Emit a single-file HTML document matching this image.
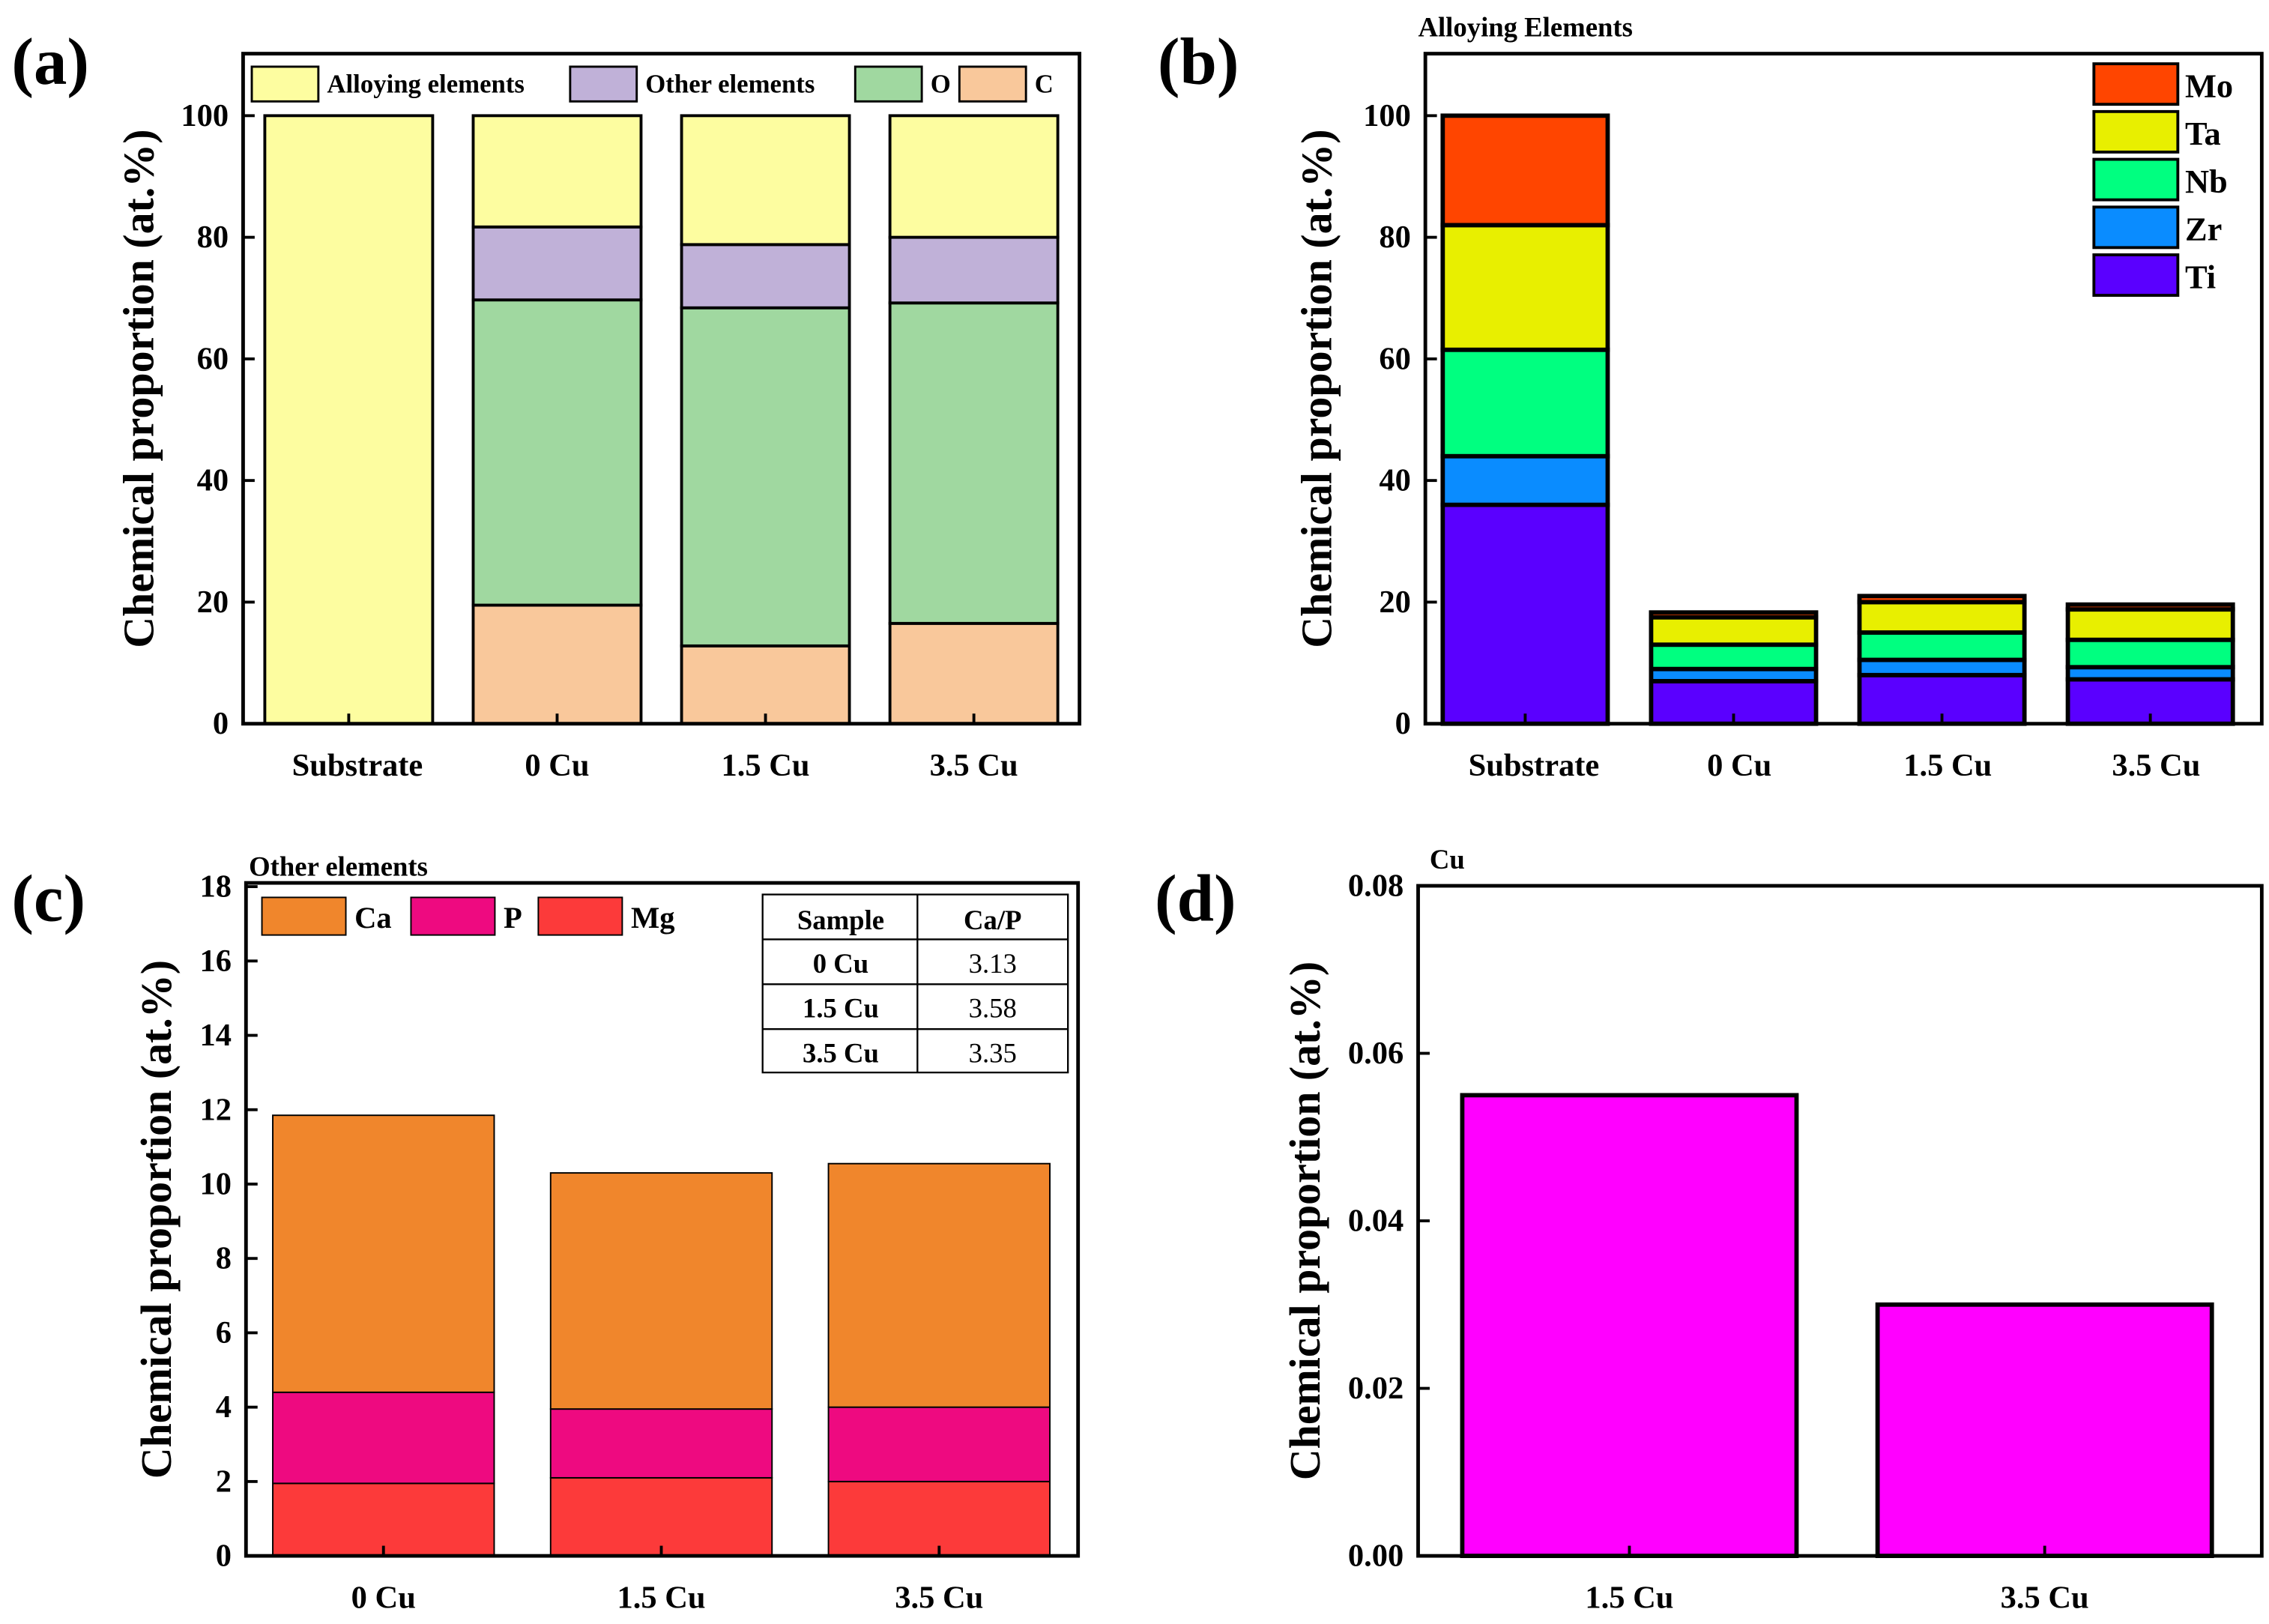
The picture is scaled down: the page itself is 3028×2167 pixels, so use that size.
<!DOCTYPE html>
<html><head><meta charset="utf-8"><style>
html,body{margin:0;padding:0;background:#fff}
svg{display:block}
text{font-family:"Liberation Serif",serif;font-weight:bold;fill:#000}
</style></head><body>
<svg id="fig" width="3028" height="2167" viewBox="0 0 1568 1122" xmlns="http://www.w3.org/2000/svg"></svg>
<script>
// Panel (a)
const catsA = ["Substrate","0 Cu","1.5 Cu","3.5 Cu"];
const seriesNamesA = ["C","O","Other elements","Alloying elements"];
const cA = [0,19.5,12.8,16.5];
const oA = [0,50.2,55.6,52.7];
const otherA = [0,12,10.4,10.8];
const alloyA = [100,18.3,21.2,20];
const ticksA = [0,20,40,60,80,100];
// Panel (b)
const catsB = ["Substrate","0 Cu","1.5 Cu","3.5 Cu"];
const tiB = [36,7,8,7.3];
const zrB = [8,2,2.5,2];
const nbB = [17.5,4,4.5,4.5];
const taB = [20.5,4.5,5,5];
const moB = [18,0.8,1,0.8];
const ticksB = [0,20,40,60,80,100];
// Panel (c)
const catsC = ["0 Cu","1.5 Cu","3.5 Cu"];
const mgC = [1.95,2.1,2.0];
const pC = [2.45,1.85,2.0];
const caC = [7.45,6.35,6.55];
const ticksC = [0,2,4,6,8,10,12,14,16,18];
const caPRatios = ["3.13","3.58","3.35"];
// Panel (d)
const catsD = ["1.5 Cu","3.5 Cu"];
const cuD = [0.055,0.030];
const ticksD = [0,0.02,0.04,0.06,0.08];

const svg=document.getElementById('fig');
const NS="http://www.w3.org/2000/svg";
function mk(tag,attrs,parent,txt){const e=document.createElementNS(NS,tag);for(const k in attrs)e.setAttribute(k,attrs[k]);if(txt!==undefined)e.textContent=txt;(parent||svg).appendChild(e);return e;}

function panel(cfg){
  const g=mk('g',{});
  
  
  const {x0,x1,y0,y1,ymin,ymax}=cfg;
  const ys=v=>y1-(v-ymin)/(ymax-ymin)*(y1-y0);
  const xs=i=>cfg.cx0+i*cfg.step;
  cfg.cats.forEach((c,i)=>{
    let base=0;
    cfg.series.forEach((s,si)=>{
      const v=s.vals[i]; if(v<=0){return;}
      const r=mk('rect',{x:xs(i)-cfg.bw/2,y:ys(base+v),width:cfg.bw,height:ys(base)-ys(base+v),fill:s.color,stroke:'#000','stroke-width':cfg.sw||2},g);
      
      
      base+=v;
    });
    const t=mk('text',{x:xs(i)+(cfg.lblDx?cfg.lblDx[i]:0),y:y1+36,'text-anchor':'middle','font-size':22},g,c);
    
    
    mk('line',{x1:xs(i),x2:xs(i),y1:y1,y2:y1-7,stroke:'#000','stroke-width':2},g);
  });
  const f=mk('rect',{x:x0,y:y0,width:x1-x0,height:y1-y0,fill:'none',stroke:'#000','stroke-width':2.5},g);
  
  
  cfg.ticks.forEach(v=>{
    const y=ys(v);
    mk('line',{x1:x0,x2:x0+8,y1:y,y2:y,stroke:'#000','stroke-width':2},g);
    const t=mk('text',{x:x0-10,y:y+7,'text-anchor':'end','font-size':22},g,cfg.fmt?cfg.fmt(v):String(v));
    
    
  });
  const yt=mk('text',{x:0,y:0,'text-anchor':'middle','font-size':30,transform:`translate(${cfg.ytx},${(y0+y1)/2}) rotate(-90)`},g,'Chemical proportion (at.%)');
  
  
  const pl=mk('text',{x:cfg.lx,y:cfg.ly,'font-size':46},g,cfg.label);
  
  
  if(cfg.title){const tt=mk('text',{x:cfg.tx,y:cfg.ty,'font-size':19},g,cfg.title);
    
    }
  return g;
}

const ga=panel({name:'panel-a',x0:168,x1:746,y0:37,y1:500,ymin:0,ymax:110.2,cats:catsA,cx0:241,step:144,bw:116,lblDx:[6,0,0,0],
  series:[{key:'c',vals:cA,color:'#f9c89b'},{key:'o',vals:oA,color:'#a0d8a0'},{key:'other',vals:otherA,color:'#c0b1d8'},{key:'alloy',vals:alloyA,color:'#fdfda0'}],
  ticks:ticksA,ytx:106,lx:8,ly:58,label:'(a)'});
[['Alloying elements','#fdfda0',174,46],['Other elements','#c0b1d8',394,46],['O','#a0d8a0',591,46],['C','#f9c89b',663,46]].forEach(l=>{
  const r=mk('rect',{x:l[2],y:l[3],width:46,height:24,fill:l[1],stroke:'#000','stroke-width':1.5},ga);
  
  
  const t=mk('text',{x:l[2]+52,y:l[3]+18,'font-size':18},ga,l[0]);
  
  
});

const gb=panel({name:'panel-b',x0:985,x1:1563,y0:37,y1:500,ymin:0,ymax:110.2,cats:catsB,cx0:1054,step:144,bw:114,sw:3,lblDx:[6,4,4,4],
  series:[{key:'ti',vals:tiB,color:'#5a00ff'},{key:'zr',vals:zrB,color:'#0a8cff'},{key:'nb',vals:nbB,color:'#00ff80'},{key:'ta',vals:taB,color:'#e8ef00'},{key:'mo',vals:moB,color:'#ff4500'}],
  ticks:ticksB,ytx:920,lx:800,ly:58,label:'(b)',title:'Alloying Elements',tx:980,ty:25});
[['Mo','#ff4500'],['Ta','#e8ef00'],['Nb','#00ff80'],['Zr','#0a8cff'],['Ti','#5a00ff']].forEach((l,i)=>{
  const y=44+i*33;
  const r=mk('rect',{x:1447,y:y,width:58,height:28,fill:l[1],stroke:'#000','stroke-width':2},gb);
  
  
  const t=mk('text',{x:1510,y:y+23,'font-size':23},gb,l[0]);
  
  
});

const gc=panel({name:'panel-c',x0:170,x1:745,y0:610,y1:1075,ymin:0,ymax:18.1,cats:catsC,cx0:265,step:192,bw:153,sw:1,
  series:[{key:'mg',vals:mgC,color:'#fc3a3a'},{key:'p',vals:pC,color:'#ee0a80'},{key:'ca',vals:caC,color:'#f0862c'}],
  ticks:ticksC,ytx:118,lx:8,ly:636,label:'(c)',title:'Other elements',tx:172,ty:605});
[['Ca','#f0862c',181],['P','#ee0a80',284],['Mg','#fc3a3a',372]].forEach(l=>{
  const r=mk('rect',{x:l[2],y:620,width:58,height:26,fill:l[1],stroke:'#000','stroke-width':1},gc);
  
  
  const t=mk('text',{x:l[2]+64,y:641,'font-size':21},gc,l[0]);
  
  
});
const tb=mk('g',{},gc);


mk('rect',{x:527,y:618,width:211,height:123,fill:'#fff',stroke:'#000','stroke-width':1.2},tb);
mk('line',{x1:634,x2:634,y1:618,y2:741,stroke:'#000','stroke-width':1.2},tb);
[649,680,711].forEach(y=>mk('line',{x1:527,x2:738,y1:y,y2:y,stroke:'#000','stroke-width':1.2},tb));
mk('text',{x:581,y:642,'text-anchor':'middle','font-size':19},tb,'Sample');
mk('text',{x:686,y:642,'text-anchor':'middle','font-size':19},tb,'Ca/P');
catsC.forEach((c,i)=>{
  mk('text',{x:581,y:672+i*31,'text-anchor':'middle','font-size':19},tb,c);
  mk('text',{x:686,y:672+i*31,'text-anchor':'middle','font-size':19,style:'font-weight:normal'},tb,caPRatios[i]);
});

panel({name:'panel-d',x0:980,x1:1563,y0:612,y1:1075,ymin:0,ymax:0.08,cats:catsD,cx0:1126,step:287,bw:231,sw:3,
  series:[{key:'cu',vals:cuD,color:'#ff00ff'}],
  ticks:ticksD,fmt:v=>v.toFixed(2),ytx:912,lx:798,ly:636,label:'(d)',title:'Cu',tx:988,ty:600});
</script>
</body></html>
